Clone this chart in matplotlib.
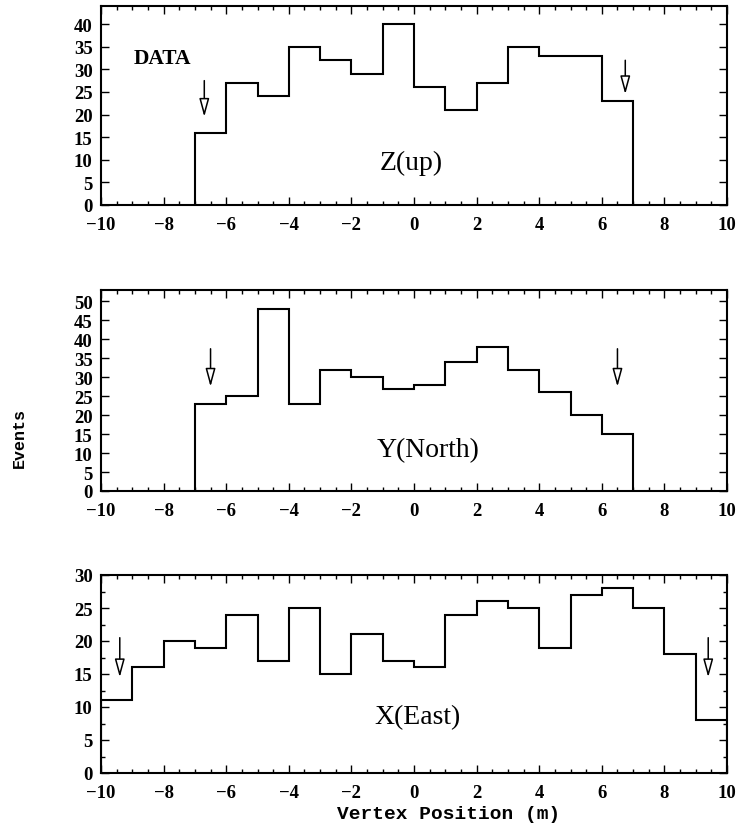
import matplotlib
matplotlib.use("Agg")
import matplotlib.pyplot as plt
import numpy as np
from matplotlib.ticker import MultipleLocator

# bin edges (m) and counts
z_edges = np.arange(-7, 8, 1)
z_counts = [16, 27, 24, 35, 32, 29, 40, 26, 21, 27, 35, 33, 33, 23]

y_edges = np.arange(-7, 8, 1)
y_counts = [23, 25, 48, 23, 32, 30, 27, 28, 34, 38, 32, 26, 20, 15]

x_edges = np.arange(-10, 11, 1)
x_counts = [11, 16, 20, 19, 24, 17, 25, 15, 21, 17, 16, 24, 26, 25, 19, 27, 28, 25, 18, 8]

# cut positions shown by the arrows: (x, top, tip)
z_arrows = [(-6.7, 27.5, 19.5), (6.75, 32.0, 24.5)]
y_arrows = [(-6.5, 37.5, 27.5), (6.5, 37.5, 27.5)]
x_arrows = [(-9.4, 20.5, 14.5), (9.4, 20.5, 14.5)]

panels = [
    (z_edges, z_counts, z_arrows, "Z(up)", (-0.1, 9.5), 44, 5),
    (y_edges, y_counts, y_arrows, "Y(North)", (0.45, 11), 53, 5),
    (x_edges, x_counts, x_arrows, "X(East)", (0.1, 8.5), 30, 5),
]

W, H = 739, 829
fig = plt.figure(figsize=(W / 100, H / 100), dpi=100)

# axes boxes in pixels: left, top, right, bottom
boxes = [(101, 7, 727, 206), (101, 291, 727, 492), (101, 576, 727, 774)]

serif = "Liberation Serif"
mono = "Liberation Mono"

axes = []
for (edges, counts, arrows, name, name_pos, ytop, ystep), (l, t, r, b) in zip(panels, boxes):
    ax = fig.add_axes([l / W, 1 - b / H, (r - l) / W, (b - t) / H])
    ax.stairs(counts, edges, baseline=0, color="black", lw=1.5)
    ax.set_xlim(-10, 10)
    ax.set_ylim(0, ytop)
    ax.xaxis.set_major_locator(MultipleLocator(2))
    ax.xaxis.set_minor_locator(MultipleLocator(0.5))
    ax.yaxis.set_major_locator(MultipleLocator(ystep))
    if name == "X(East)":
        ax.yaxis.set_minor_locator(MultipleLocator(2.5))
    ax.tick_params(which="both", direction="in", top=True, right=True, width=1.0)
    ax.tick_params(which="major", length=6)
    ax.tick_params(which="minor", length=3)
    ax.tick_params(axis="x", which="major", pad=8)
    ax.tick_params(axis="y", which="major", pad=6)
    for lab in ax.get_xticklabels() + ax.get_yticklabels():
        lab.set_fontfamily(serif)
        lab.set_fontsize(13.5)
        lab.set_fontweight("bold")
    for sp in ax.spines.values():
        sp.set_linewidth(1.5)
    for (xa, top, tip) in arrows:
        ax.annotate("", xy=(xa, tip), xytext=(xa, top),
                    arrowprops=dict(arrowstyle="-|>,head_length=1.1,head_width=0.3",
                                    fc="white", ec="black", lw=1.1, shrinkA=0, shrinkB=0))
    ax.text(name_pos[0], name_pos[1], name, family=serif, fontsize=20,
            ha="center", va="center")
    axes.append(ax)

axes[0].text(-8.95, 32.5, "DATA", family=serif, fontsize=15.5, weight="bold",
             ha="left", va="center")
axes[2].set_xlabel("Vertex Position (m)", family=mono, fontsize=14, weight="bold")
axes[2].xaxis.set_label_coords(0.555, -0.16)
fig.text(19 / W, 1 - 438 / H, "Events", family=mono, fontsize=12, weight="bold",
         rotation=90, ha="center", va="center")

fig.savefig("out.png", dpi=100)
